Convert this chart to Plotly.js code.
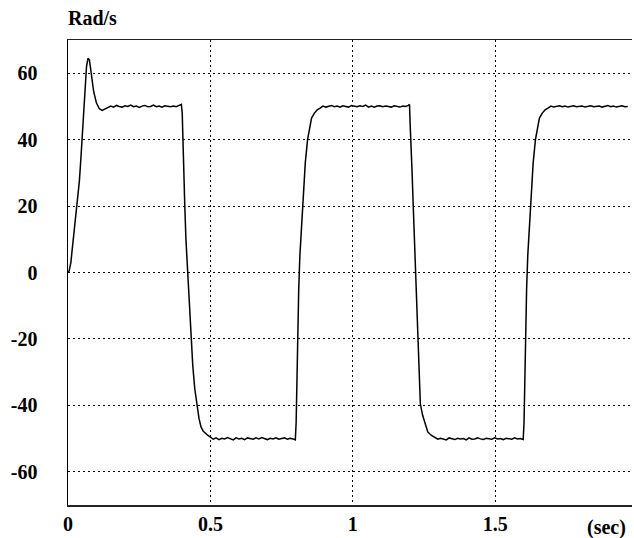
<!DOCTYPE html>
<html>
<head>
<meta charset="utf-8">
<script src="https://cdn.plot.ly/plotly-3.0.1.min.js"></script>
<style>html,body{margin:0;padding:0;background:#fff}#chart{width:634px;height:538px}</style>
</head>
<body>
<div id="chart"></div>
<script>
// time (sec) and speed (Rad/s)
const timeSec = [
  0, 0.004, 0.010, 0.016, 0.022, 0.028, 0.034, 0.040, 0.045, 0.050, 0.055, 0.060, 0.065, 0.070, 0.075, 0.080, 0.085, 0.090, 0.100, 0.110, 0.120, 0.130,
  0.140, 0.150, 0.160, 0.170, 0.180, 0.190, 0.200, 0.210, 0.220, 0.230, 0.240, 0.250, 0.260, 0.270, 0.280, 0.290, 0.300, 0.310, 0.320, 0.330, 0.340, 0.350, 0.360, 0.370, 0.380, 0.390, 0.398,
  0.401, 0.403, 0.406, 0.410, 0.414, 0.418, 0.421, 0.426, 0.432, 0.438, 0.445, 0.452, 0.460, 0.467, 0.475, 0.488,
  0.500, 0.510, 0.520, 0.530, 0.540, 0.550, 0.560, 0.570, 0.580, 0.590, 0.600, 0.610, 0.620, 0.630, 0.640, 0.650, 0.660, 0.670, 0.680, 0.690, 0.700, 0.710, 0.720, 0.730, 0.740, 0.750, 0.760, 0.770, 0.780, 0.790, 0.798,
  0.801, 0.803, 0.806, 0.810, 0.814, 0.820, 0.826, 0.833, 0.841, 0.848, 0.855, 0.865, 0.875,
  0.885, 0.895, 0.905, 0.915, 0.925, 0.935, 0.945, 0.955, 0.965, 0.975, 0.985, 0.995, 1.005, 1.015, 1.025, 1.035, 1.045, 1.055, 1.065, 1.075, 1.085, 1.095, 1.105, 1.115, 1.125, 1.135, 1.145, 1.155, 1.165, 1.175, 1.185, 1.195, 1.199,
  1.201, 1.204, 1.208, 1.212, 1.216, 1.220, 1.224, 1.229, 1.233, 1.237, 1.245, 1.255, 1.263, 1.275,
  1.288, 1.298, 1.308, 1.318, 1.328, 1.338, 1.348, 1.358, 1.368, 1.378, 1.388, 1.398, 1.408, 1.418, 1.428, 1.438, 1.448, 1.458, 1.468, 1.478, 1.488, 1.498, 1.508, 1.518, 1.528, 1.538, 1.548, 1.558, 1.568, 1.578, 1.588, 1.598,
  1.601, 1.603, 1.606, 1.610, 1.614, 1.620, 1.626, 1.633, 1.641, 1.648, 1.655, 1.665, 1.675,
  1.685, 1.695, 1.705, 1.715, 1.725, 1.735, 1.745, 1.755, 1.765, 1.775, 1.785, 1.795, 1.805, 1.815, 1.825, 1.835, 1.845, 1.855, 1.865, 1.875, 1.885, 1.895, 1.905, 1.915, 1.925, 1.935, 1.945, 1.955, 1.965
];
const speedRad = [
  0, 0.5, 3, 7.6, 12.5, 17.7, 22.5, 27.6, 34, 42, 50, 57, 62, 64.5, 64, 61, 57.5, 54.5, 51, 49.3, 48.8, 49.2,
  49.7, 50.1, 49.8, 50.3, 50.0, 49.8, 50.2, 50.0, 50.4, 49.9, 50.1, 49.7, 50.1, 50.3, 49.9, 50.0, 50.4, 49.9, 50.1, 49.8, 50.2, 50.0, 49.9, 50.1, 49.9, 50.3, 50.6,
  48, 40, 30, 20, 10, 3, 0, -10, -20, -28, -35, -40, -44, -46.5, -47.8, -48.8,
  -49.6, -50.2, -49.8, -50.3, -49.9, -50.1, -49.7, -50.1, -50.4, -49.8, -50.1, -49.9, -50.3, -49.8, -50.1, -50.2, -49.8, -50.1, -49.7, -50.0, -50.3, -49.9, -50.1, -49.8, -50.2, -50.0, -49.8, -50.2, -49.9, -50.1, -50.4,
  -45, -35, -20, -5, 5, 15, 25, 33, 40, 44, 46.5, 48, 49,
  49.5, 50.1, 49.8, 50.1, 50.3, 49.9, 50.1, 49.8, 50.2, 50.0, 49.8, 50.3, 50.1, 49.9, 50.2, 50.0, 50.4, 49.8, 50.1, 49.8, 50.1, 50.2, 49.9, 50.1, 50.0, 49.8, 50.2, 50.1, 49.8, 50.1, 50.0, 50.3, 50.6,
  45, 40, 30, 20, 10, 0, -10, -20, -30, -39.6, -43, -46, -48, -49,
  -49.8, -50.2, -49.9, -50.1, -50.4, -49.8, -50.1, -50.3, -49.9, -50.1, -50.0, -50.4, -49.8, -50.2, -50.1, -49.8, -50.1, -50.3, -49.9, -50.1, -50.2, -49.8, -50.1, -50.0, -50.3, -49.9, -50.1, -50.2, -49.8, -50.1, -50.0, -50.3,
  -45, -35, -20, -5, 5, 15, 25, 33, 40, 44, 46.5, 48, 49,
  49.5, 50.1, 49.8, 50.1, 50.2, 49.9, 50.1, 49.8, 50.0, 50.2, 49.9, 50.1, 50.1, 49.8, 50.1, 50.2, 49.9, 50.0, 50.1, 49.8, 50.1, 50.3, 49.9, 50.1, 49.8, 50.0, 50.2, 49.9, 50.0
];
const xTickVals = [0, 0.5, 1, 1.5];
const xTickText = ['0', '0.5', '1', '1.5'];
const yTickVals = [-60, -40, -20, 0, 20, 40, 60];
const yTickText = ['-60', '-40', '-20', '0', '20', '40', '60'];

const fam = 'Liberation Serif, Times New Roman, serif';
const tf = {family: fam, size: 20, color: '#000', weight: 'bold'};
const pad = '\u00a0\u00a0\u00a0\u00a0\u00a0';

const trace = {
  x: timeSec, y: speedRad, type: 'scatter', mode: 'lines',
  line: {color: '#000', width: 1.5}, hoverinfo: 'skip'
};

const layout = {
  width: 634, height: 538,
  margin: {l: 68, r: 2, t: 40, b: 33},
  paper_bgcolor: '#fff', plot_bgcolor: '#fff',
  showlegend: false,
  font: {family: fam, size: 20, color: '#000'},
  xaxis: {
    range: [0, 1.98], tickvals: xTickVals, ticktext: xTickText,
    showgrid: true, gridcolor: '#000', gridwidth: 1, griddash: '2px,3px',
    zeroline: false, showline: true, linecolor: '#222', linewidth: 1.5, mirror: true,
    ticks: '', ticklabelstandoff: 0,
    tickfont: tf
  },
  yaxis: {
    range: [-70, 70], tickvals: yTickVals, ticktext: yTickText.map(s => s + pad),
    showgrid: true, gridcolor: '#000', gridwidth: 1, griddash: '2px,3px',
    zeroline: false, showline: true, linecolor: '#000', linewidth: 1.5, mirror: false,
    ticks: '',
    tickfont: tf
  },
  annotations: [
    {text: 'Rad/s', xref: 'paper', yref: 'paper', x: 0, y: 1, xanchor: 'left', yanchor: 'middle',
     xshift: -2, yshift: 22, showarrow: false, font: tf},
    {text: '(sec)', xref: 'paper', yref: 'paper', x: 1, y: 0, xanchor: 'right', yanchor: 'top',
     xshift: -4, yshift: -9, showarrow: false, font: tf}
  ]
};

Plotly.newPlot('chart', [trace], layout, {staticPlot: true, displayModeBar: false});
</script>
</body>
</html>
